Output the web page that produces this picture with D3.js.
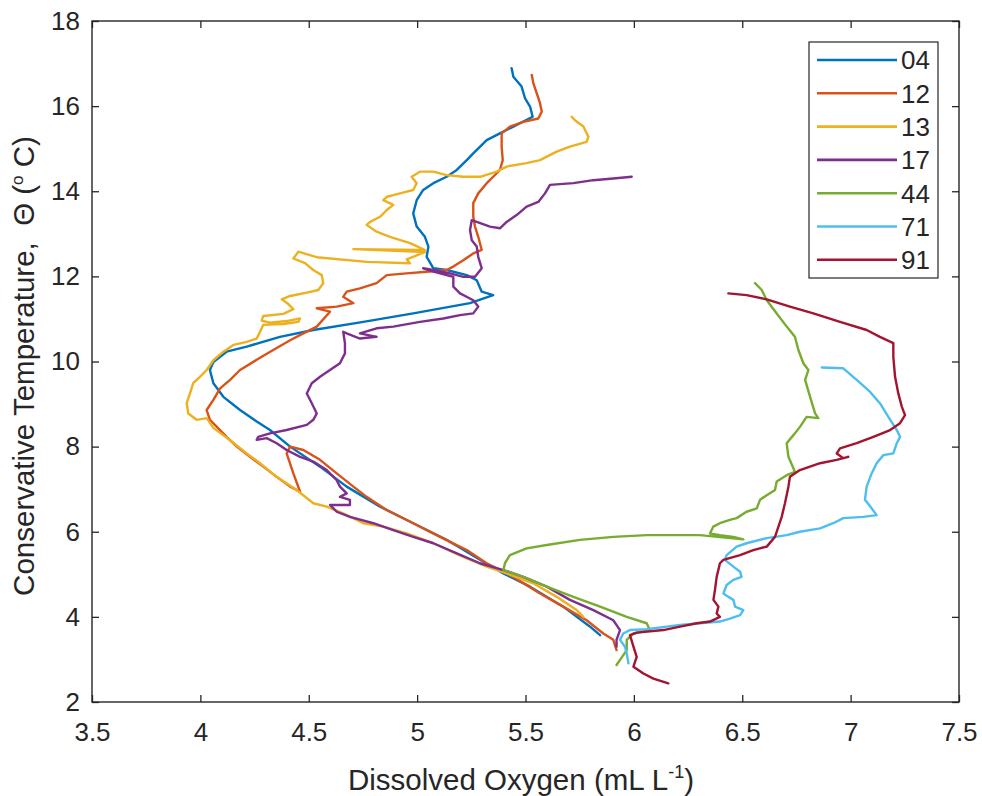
<!DOCTYPE html>
<html>
<head>
<meta charset="utf-8">
<script src="https://cdn.jsdelivr.net/npm/d3@7"></script>
<style>
  html, body { margin: 0; padding: 0; background: #fff; }
  svg { display: block; font-family: "Liberation Sans", Arial, Helvetica, sans-serif; }
</style>
</head>
<body>
<svg id="chart" width="982" height="796"></svg>
<script>
// Oxygen–temperature profiles per station: [dissolved O2 (mL/L), conservative temperature (°C)]
const stations = ["04", "12", "13", "17", "44", "71", "91"];
const colors = ["#0072BD", "#D95319", "#EDB120", "#7E2F8E", "#77AC30", "#4DBEEE", "#A2142F"];

const xTicks = [3.5, 4, 4.5, 5, 5.5, 6, 6.5, 7, 7.5];
const yTicks = [2, 4, 6, 8, 10, 12, 14, 16, 18];

const st04 = [
  [5.436,16.89],[5.444,16.69],[5.482,16.46],[5.498,16.18],[5.521,15.99],[5.533,15.75],[5.444,15.52],
  [5.382,15.36],[5.321,15.20],[5.259,14.89],[5.229,14.73],[5.183,14.50],[5.136,14.34],[5.075,14.19],
  [5.028,14.03],[4.998,13.79],[4.982,13.48],[4.998,13.17],[5.036,12.93],[5.052,12.70],[5.044,12.46],
  [5.075,12.19],[5.136,12.15],[5.229,12.03],[5.275,11.91],[5.298,11.64],[5.351,11.56],[5.244,11.37],
  [4.982,11.13],[4.752,10.93],[4.521,10.74],[4.367,10.58],[4.214,10.35],[4.121,10.23],[4.060,9.99],
  [4.044,9.80],[4.060,9.49],[4.106,9.17],[4.183,8.86],[4.260,8.59],[4.321,8.39],[4.414,8.00],
  [4.552,7.53],[4.675,7.06],[4.829,6.59],[4.982,6.20],[5.136,5.81],[5.290,5.34],[5.398,5.02],
  [5.521,4.71],[5.674,4.24],[5.798,3.77],[5.844,3.57]
];
const st12 = [
  [5.529,16.73],[5.536,16.54],[5.552,16.30],[5.567,16.07],[5.575,15.87],[5.559,15.71],[5.490,15.63],
  [5.428,15.52],[5.390,15.36],[5.390,15.05],[5.395,14.73],[5.382,14.50],[5.351,14.34],[5.321,14.19],
  [5.282,13.95],[5.259,13.72],[5.259,13.40],[5.267,13.17],[5.282,12.93],[5.298,12.62],[5.259,12.54],
  [5.213,12.38],[5.167,12.23],[5.136,12.15],[5.044,12.11],[4.951,12.07],[4.860,12.03],[4.813,11.84],
  [4.736,11.72],[4.675,11.64],[4.659,11.52],[4.706,11.37],[4.629,11.29],[4.537,11.25],[4.598,11.17],
  [4.537,10.82],[4.475,10.66],[4.414,10.50],[4.336,10.27],[4.260,10.04],[4.183,9.80],[4.137,9.57],
  [4.091,9.37],[4.060,9.10],[4.029,8.86],[4.044,8.63],[4.075,8.47],[4.121,8.23],[4.168,8.00],
  [4.229,7.76],[4.290,7.53],[4.352,7.29],[4.414,7.06],[4.460,6.94],[4.429,7.37],[4.398,7.84],
  [4.414,8.00],[4.475,7.92],[4.552,7.69],[4.629,7.37],[4.706,7.06],[4.767,6.82],[4.859,6.51],
  [4.982,6.20],[5.106,5.88],[5.229,5.57],[5.321,5.26],[5.444,4.94],[5.567,4.55],[5.674,4.24],
  [5.782,3.92],[5.859,3.61],[5.905,3.46],[5.920,3.22]
];
const st13 = [
  [5.713,15.75],[5.728,15.67],[5.767,15.52],[5.790,15.28],[5.782,15.16],[5.705,15.05],[5.644,14.93],
  [5.567,14.73],[5.505,14.66],[5.413,14.58],[5.367,14.46],[5.290,14.34],[5.213,14.34],[5.136,14.38],
  [5.075,14.46],[5.013,14.46],[4.975,14.34],[4.998,14.19],[4.982,14.03],[4.952,13.99],[4.890,13.91],
  [4.860,13.87],[4.844,13.79],[4.890,13.68],[4.860,13.56],[4.829,13.40],[4.783,13.28],[4.767,13.21],
  [4.813,13.05],[4.875,12.93],[4.967,12.78],[5.036,12.62],[4.706,12.64],[5.036,12.57],[4.952,12.40],
  [4.967,12.31],[4.767,12.34],[4.537,12.45],[4.452,12.58],[4.429,12.42],[4.483,12.31],[4.521,12.15],
  [4.560,12.03],[4.567,11.84],[4.544,11.68],[4.491,11.62],[4.414,11.54],[4.375,11.46],[4.406,11.35],
  [4.429,11.23],[4.383,11.12],[4.290,11.07],[4.283,10.96],[4.321,10.91],[4.398,10.95],[4.460,11.01],
  [4.452,10.93],[4.383,10.88],[4.290,10.86],[4.275,10.70],[4.260,10.54],[4.214,10.46],[4.152,10.39],
  [4.106,10.23],[4.060,10.03],[4.029,9.80],[3.998,9.64],[3.967,9.49],[3.952,9.25],[3.937,9.02],
  [3.944,8.78],[3.983,8.63],[4.029,8.67],[4.060,8.44],[4.137,8.15],[4.214,7.84],[4.275,7.61],
  [4.352,7.29],[4.444,6.98],[4.521,6.67],[4.583,6.59],[4.659,6.43],[4.752,6.20],[4.844,6.12],
  [4.952,5.96],[5.075,5.73],[5.213,5.41],[5.321,5.18],[5.413,5.02],[5.536,4.79],[5.644,4.47],
  [5.736,4.16],[5.767,4.00]
];
const st17 = [
  [5.990,14.34],[5.905,14.30],[5.813,14.26],[5.721,14.19],[5.613,14.15],[5.590,13.95],[5.559,13.75],
  [5.505,13.64],[5.459,13.44],[5.413,13.28],[5.382,13.13],[5.336,13.17],[5.275,13.28],[5.252,13.32],
  [5.244,13.09],[5.252,12.85],[5.275,12.70],[5.282,12.46],[5.298,12.19],[5.267,11.99],[5.213,11.99],
  [5.152,12.07],[5.075,12.15],[5.028,12.19],[5.075,12.11],[5.167,11.99],[5.167,11.76],[5.198,11.60],
  [5.259,11.44],[5.282,11.29],[5.259,11.13],[5.198,11.09],[5.121,11.01],[5.013,10.93],[4.890,10.82],
  [4.813,10.78],[4.736,10.66],[4.813,10.58],[4.736,10.54],[4.675,10.66],[4.659,10.70],[4.667,10.43],
  [4.667,10.19],[4.644,9.96],[4.598,9.80],[4.552,9.64],[4.514,9.49],[4.491,9.25],[4.514,9.02],
  [4.537,8.78],[4.521,8.63],[4.491,8.51],[4.398,8.39],[4.321,8.31],[4.267,8.23],[4.260,8.16],
  [4.306,8.20],[4.352,8.08],[4.398,7.92],[4.460,7.76],[4.521,7.65],[4.583,7.45],[4.629,7.21],
  [4.644,7.06],[4.675,6.90],[4.644,6.82],[4.690,6.75],[4.690,6.63],[4.598,6.63],[4.629,6.47],
  [4.690,6.35],[4.798,6.20],[4.890,6.04],[4.982,5.88],[5.075,5.73],[5.183,5.49],[5.290,5.26],
  [5.398,5.10],[5.490,4.94],[5.598,4.71],[5.705,4.40],[5.813,4.16],[5.905,3.92],[5.936,3.69],
  [5.920,3.46],[5.920,3.30]
];
const st44 = [
  [6.559,11.84],[6.590,11.68],[6.613,11.44],[6.659,11.13],[6.705,10.82],[6.743,10.58],[6.759,10.27],
  [6.782,9.96],[6.805,9.80],[6.790,9.57],[6.813,9.17],[6.836,8.78],[6.851,8.67],[6.797,8.70],
  [6.767,8.47],[6.736,8.27],[6.705,8.08],[6.713,7.76],[6.743,7.41],[6.705,7.33],[6.659,7.18],
  [6.651,6.98],[6.613,6.86],[6.582,6.75],[6.567,6.55],[6.520,6.47],[6.474,6.32],[6.443,6.28],
  [6.397,6.20],[6.366,6.12],[6.351,5.96],[6.397,5.92],[6.459,5.88],[6.505,5.82],[6.305,5.92],
  [6.059,5.92],[5.905,5.88],[5.751,5.81],[5.598,5.69],[5.505,5.61],[5.428,5.45],[5.405,5.26],
  [5.398,5.10],[5.490,4.94],[5.598,4.71],[5.721,4.47],[5.844,4.24],[5.967,4.00],[6.059,3.85],
  [6.074,3.69],[5.998,3.61],[5.967,3.46],[5.967,3.22],[5.936,2.99],[5.920,2.87]
];
const st71 = [
  [6.867,9.86],[6.966,9.84],[7.028,9.57],[7.089,9.29],[7.135,9.02],[7.174,8.70],[7.213,8.39],
  [7.228,8.23],[7.213,8.08],[7.197,7.84],[7.151,7.80],[7.120,7.61],[7.097,7.37],[7.074,7.06],
  [7.066,6.75],[7.097,6.55],[7.120,6.39],[7.059,6.35],[6.966,6.32],[6.920,6.20],[6.859,6.08],
  [6.766,6.00],[6.705,5.92],[6.613,5.85],[6.520,5.73],[6.474,5.65],[6.428,5.45],[6.420,5.34],
  [6.459,5.18],[6.490,5.06],[6.497,4.94],[6.459,4.87],[6.428,4.75],[6.413,4.55],[6.436,4.47],
  [6.459,4.40],[6.467,4.24],[6.505,4.16],[6.490,4.04],[6.443,3.96],[6.397,3.89],[6.305,3.85],
  [6.213,3.81],[6.151,3.77],[6.059,3.71],[5.982,3.69],[5.951,3.61],[5.936,3.46],[5.959,3.30],
  [5.967,3.14],[5.975,2.91]
];
const st91 = [
  [6.436,11.60],[6.520,11.56],[6.613,11.46],[6.720,11.29],[6.828,11.13],[6.951,10.93],[7.074,10.74],
  [7.135,10.58],[7.197,10.43],[7.197,10.11],[7.205,9.64],[7.220,9.25],[7.236,8.94],[7.251,8.74],
  [7.228,8.55],[7.182,8.39],[7.105,8.23],[7.028,8.08],[6.951,7.96],[6.936,7.84],[6.966,7.73],
  [6.989,7.76],[6.936,7.69],[6.859,7.61],[6.766,7.45],[6.720,7.29],[6.713,7.06],[6.697,6.67],
  [6.682,6.35],[6.667,6.12],[6.651,5.88],[6.613,5.65],[6.551,5.57],[6.490,5.45],[6.413,5.34],
  [6.397,5.26],[6.382,4.94],[6.374,4.63],[6.367,4.40],[6.390,4.24],[6.382,4.08],[6.397,4.00],
  [6.351,3.89],[6.290,3.85],[6.213,3.77],[6.136,3.69],[6.013,3.63],[5.982,3.57],[5.998,3.30],
  [6.013,3.06],[5.998,2.83],[6.044,2.67],[6.090,2.55],[6.159,2.44]
];
const profiles = [st04, st12, st13, st17, st44, st71, st91];

const svg = d3.select("#chart");
const plotLeft = 92, plotRight = 959, plotTop = 21, plotBottom = 702;
const axisColor = "#262626";
const tickFont = 26;
const labelFont = 29.5;

const x = d3.scaleLinear().domain([3.5, 7.5]).range([plotLeft, plotRight]);
const y = d3.scaleLinear().domain([2, 18]).range([plotBottom, plotTop]);

// Profiles
const line = d3.line().x(d => x(d[0])).y(d => y(d[1]));
const plot = svg.append("g");
profiles.forEach((p, i) => {
  plot.append("path")
    .datum(p)
    .attr("d", line)
    .attr("fill", "none")
    .attr("stroke", colors[i])
    .attr("stroke-width", 2.4)
    .attr("stroke-linejoin", "round")
    .attr("stroke-linecap", "round");
});

// Axes with inward ticks on all four sides
const tk = 7;
function styleAxis(g, showText) {
  g.select(".domain").remove();
  g.selectAll(".tick line").attr("stroke", axisColor).attr("stroke-width", 1.3);
  g.selectAll(".tick text")
    .attr("fill", axisColor)
    .style("font-size", tickFont + "px")
    .style("display", showText ? null : "none");
}
svg.append("g").attr("transform", `translate(0,${plotBottom})`)
  .call(d3.axisBottom(x).tickValues(xTicks).tickFormat(d3.format("~g")).tickSizeInner(-tk).tickSizeOuter(0).tickPadding(21))
  .call(g => styleAxis(g, true));
svg.append("g").attr("transform", `translate(0,${plotTop})`)
  .call(d3.axisTop(x).tickValues(xTicks).tickSizeInner(-tk).tickSizeOuter(0))
  .call(g => styleAxis(g, false));
svg.append("g").attr("transform", `translate(${plotLeft},0)`)
  .call(d3.axisLeft(y).tickValues(yTicks).tickFormat(d3.format("~g")).tickSizeInner(-tk).tickSizeOuter(0).tickPadding(12))
  .call(g => styleAxis(g, true));
svg.append("g").attr("transform", `translate(${plotRight},0)`)
  .call(d3.axisRight(y).tickValues(yTicks).tickSizeInner(-tk).tickSizeOuter(0))
  .call(g => styleAxis(g, false));

svg.append("rect")
  .attr("x", plotLeft).attr("y", plotTop)
  .attr("width", plotRight - plotLeft).attr("height", plotBottom - plotTop)
  .attr("fill", "none").attr("stroke", axisColor).attr("stroke-width", 1.4);

// Axis labels
const xl = svg.append("text")
  .attr("x", 521).attr("y", 790)
  .attr("text-anchor", "middle")
  .attr("fill", axisColor)
  .style("font-size", labelFont + "px");
xl.append("tspan").text("Dissolved Oxygen (mL L");
xl.append("tspan").attr("dy", -12).style("font-size", "18px").text("-1");
xl.append("tspan").attr("dy", 12).text(")");

const yl = svg.append("text")
  .attr("transform", `translate(34,366) rotate(-90)`)
  .attr("text-anchor", "middle")
  .attr("fill", axisColor)
  .style("white-space", "pre")
  .style("font-size", labelFont + "px");
yl.append("tspan").text("Conservative Temperature,  \u0398 (");
yl.append("tspan").attr("dy", -11).style("font-size", "17px").text("o");
yl.append("tspan").attr("dy", 11).text(" C)");

// Legend
const lg = svg.append("g");
lg.append("rect")
  .attr("x", 809).attr("y", 42).attr("width", 129).attr("height", 236)
  .attr("fill", "#fff").attr("stroke", axisColor).attr("stroke-width", 1.2);
stations.forEach((s, i) => {
  const cy = 60 + i * 33.3;
  lg.append("line")
    .attr("x1", 817).attr("x2", 897).attr("y1", cy).attr("y2", cy)
    .attr("stroke", colors[i]).attr("stroke-width", 2.6);
  lg.append("text")
    .attr("x", 901).attr("y", cy).attr("dy", "0.36em")
    .attr("fill", axisColor)
    .style("font-size", tickFont + "px")
    .text(s);
});
</script>
</body>
</html>
